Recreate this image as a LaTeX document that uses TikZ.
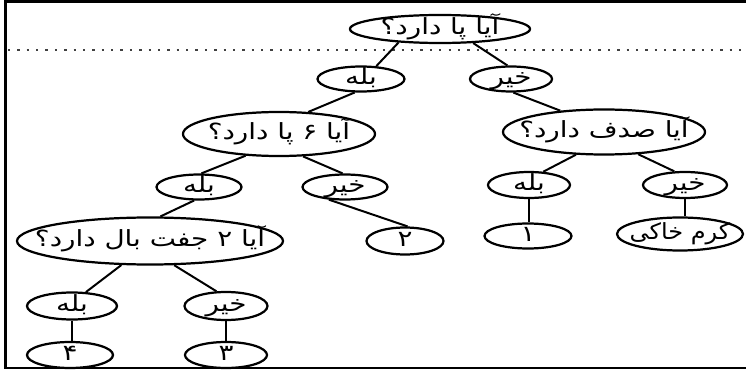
\documentclass[tikz,border=0pt]{standalone}
\usepackage{fontspec}
\usepackage{graphicx}
\usetikzlibrary{shapes.geometric}
\newfontfamily\farsifont[Script=Arabic]{DejaVu Sans}
\TeXXeTstate=1
\newcommand{\fa}[2][1.25]{\makebox[0pt]{\scalebox{#1}[1]{\farsifont\beginR #2\endR}}}

\begin{document}
\begin{tikzpicture}[x=0.03cm,y=-0.03cm,font=\fontsize{19}{22}\selectfont,
  oval/.style 2 args={draw,ellipse,line width=1.9pt,minimum width=#1,minimum height=#2,
    inner sep=0pt,text height=10pt,text depth=0pt},
  link/.style={line width=1.7pt}]
  \useasboundingbox (0,0) rectangle (746,370);
  % frame of the scan (no right side) and the dotted fold
  \draw[line width=1.8pt] (746,1.5) -- (5.5,1.5) -- (5.5,368) -- (746,368);
  \draw[black!75,line width=1.5pt,dash pattern=on 2pt off 6pt] (8,50) -- (746,50);
  % root question
  \node[oval={5.4cm}{0.84cm}] (root) at (440,29) {\fa{آیا پا دارد؟}};
  \node[oval={2.61cm}{0.75cm}] (yes1) at (361,79) {\fa{بله}};
  \node[oval={2.46cm}{0.75cm}] (no1) at (511,79) {\fa{خیر}};
  % second level questions
  \node[oval={5.76cm}{1.32cm}] (legs6) at (279,134) {\fa{آیا ۶ پا دارد؟}};
  \node[oval={6.06cm}{1.35cm}] (shell) at (604,132) {\fa{آیا صدف دارد؟}};
  \node[oval={2.55cm}{0.75cm}] (yes2) at (199,187) {\fa{بله}};
  \node[oval={2.55cm}{0.75cm}] (no2) at (345,187) {\fa{خیر}};
  \node[oval={2.46cm}{0.78cm}] (yes3) at (529,185) {\fa{بله}};
  \node[oval={2.52cm}{0.78cm}] (no3) at (685,185) {\fa{خیر}};
  % leaves on the right
  \node[oval={2.31cm}{0.81cm}] (leaf2) at (405,241) {\fa{۲}};
  \node[oval={2.61cm}{0.75cm}] (leaf1) at (528,236) {\fa{۱}};
  \node[oval={3.78cm}{0.99cm}] (worm) at (680,234) {\fa[1.08]{کرم خاکی}};
  % wings question and its leaves
  \node[oval={7.98cm}{1.41cm}] (wings) at (150,241) {\fa{آیا ۲ جفت بال دارد؟}};
  \node[oval={2.7cm}{0.81cm}] (yes4) at (72,306) {\fa{بله}};
  \node[oval={2.49cm}{0.84cm}] (no4) at (226,306) {\fa{خیر}};
  \node[oval={2.58cm}{0.78cm}] (leaf4) at (70,355) {\fa{۴}};
  \node[oval={2.46cm}{0.78cm}] (leaf3) at (226,355) {\fa{۳}};
  % connectors, between points on the borders
  \foreach \a/\b in {root.198/yes1.40,root.337/no1.105,yes1.245/legs6.37,no1.280/shell.154,
    legs6.213/yes2.80,legs6.317/no2.100,no2.218/leaf2.80,yes2.250/wings.67,
    shell.219/yes3.43,shell.327/no3.128,wings.220/yes4.45,wings.315/no4.123}
    \draw[link] (\a) -- (\b);
  % straight down to the leaves
  \foreach \a/\b in {yes3/leaf1,no3/worm,yes4/leaf4,no4/leaf3}
    \draw[link] (\a.south) -- (\a.south |- \b.north);
\end{tikzpicture}
\end{document}
